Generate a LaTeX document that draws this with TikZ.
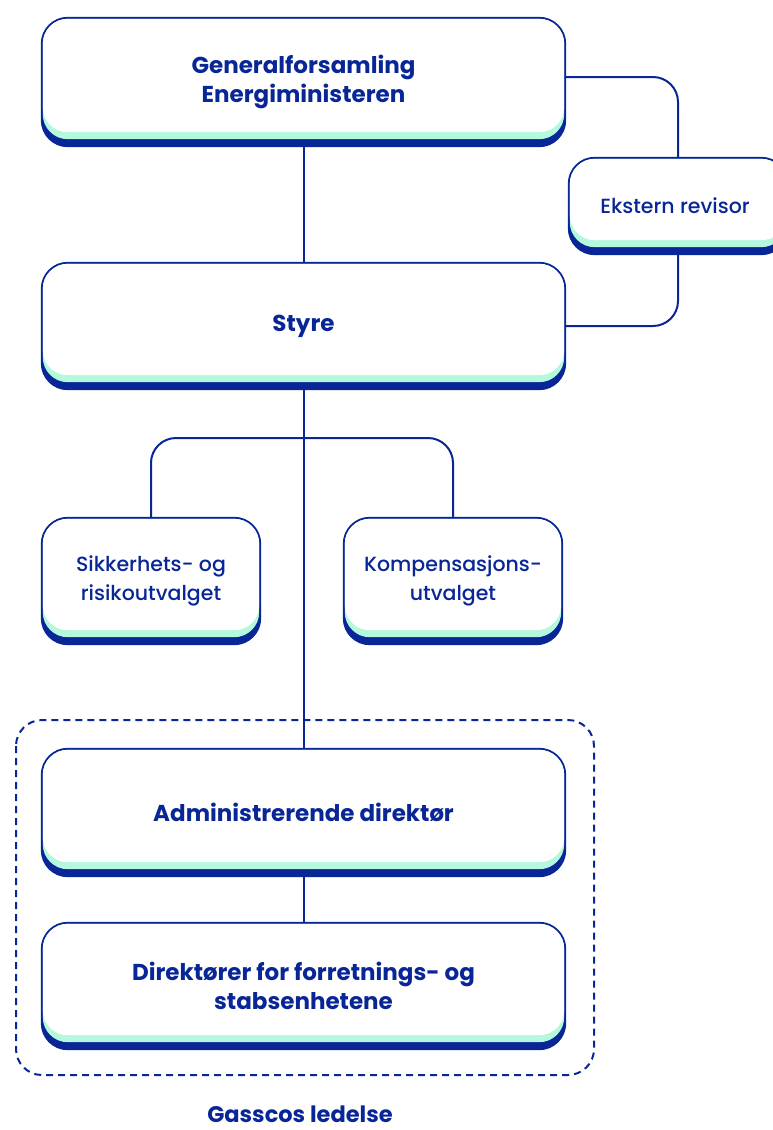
\documentclass[tikz,border=0pt]{standalone}
\usepackage{fontspec}
\setmainfont{Poppins}
\newfontfamily\medfont{Poppins Medium}
\usetikzlibrary{backgrounds}
\definecolor{navy}{RGB}{8,38,150}
\definecolor{mint}{RGB}{180,248,222}
\tikzset{
  boxtext/.style={inner sep=0pt, align=center, text=navy, font=\fontsize{23}{29.5}\selectfont\bfseries},
  smalltext/.style={inner sep=0pt, align=center, text=navy, font=\medfont\fontsize{20.5}{29}\selectfont},
  conn/.style={draw=navy, line width=2pt},
  grpbox/.style={draw=navy, line width=2pt, dash pattern=on 7pt off 5pt, rounded corners=26pt},
}
\newcommand\orgbox[7]{%
  \node[#7, minimum width=#4, minimum height=#5] (#1) at (#2,#3) {#6};
  \begin{pgfonlayer}{background}
    \fill[navy, rounded corners=27pt] (#1.north west) rectangle (#1.south east);
    \fill[mint, rounded corners=25pt] ([shift={(2,2)}]#1.north west) rectangle ([shift={(-2,-8)}]#1.south east);
    \fill[white, rounded corners=25pt] ([shift={(2,2)}]#1.north west) rectangle ([shift={(-2,-15)}]#1.south east);
  \end{pgfonlayer}}
\begin{document}
\begin{tikzpicture}[x=1pt,y=-1pt]
\clip (0,0) rectangle (772,1130);
\orgbox{gen}{303.5}{82}{525pt}{130pt}{Generalforsamling\\Energiministeren}{boxtext}
\orgbox{ext}{678}{206}{220pt}{98pt}{\hspace*{-6pt}Ekstern revisor}{smalltext}
\orgbox{sty}{303.5}{326}{525pt}{128pt}{Styre}{boxtext}
\orgbox{sik}{151}{581}{220pt}{128pt}{Sikkerhets- og\\risikoutvalget}{smalltext}
\orgbox{kom}{453}{581}{220pt}{128pt}{Kompensasjons-\\utvalget}{smalltext}
\orgbox{adm}{303.5}{812.5}{525pt}{129pt}{Administrerende direktør}{boxtext}
\orgbox{dir}{303.5}{986}{525pt}{128pt}{Direktører for forretnings- og\\stabsenhetene}{boxtext}
\node[boxtext, font=\fontsize{22.5}{24}\selectfont\bfseries, anchor=base] (lbl) at (300,1122) {Gasscos ledelse};
\draw[grpbox] (16,720) rectangle (594,1075);
\coordinate (br) at (305,438);
\draw[conn] (gen.south) -- (sty.north);
\draw[conn, rounded corners=25pt] ([yshift=5]gen.east) -| (ext.north);
\draw[conn, rounded corners=25pt] (ext.south) |- (sty.east);
\draw[conn] (sty.south) -- (adm.north);
\draw[conn, rounded corners=25pt] (sik.north) |- (br) -| (kom.north);
\draw[conn] (adm.south) -- (dir.north);
\end{tikzpicture}
\end{document}
